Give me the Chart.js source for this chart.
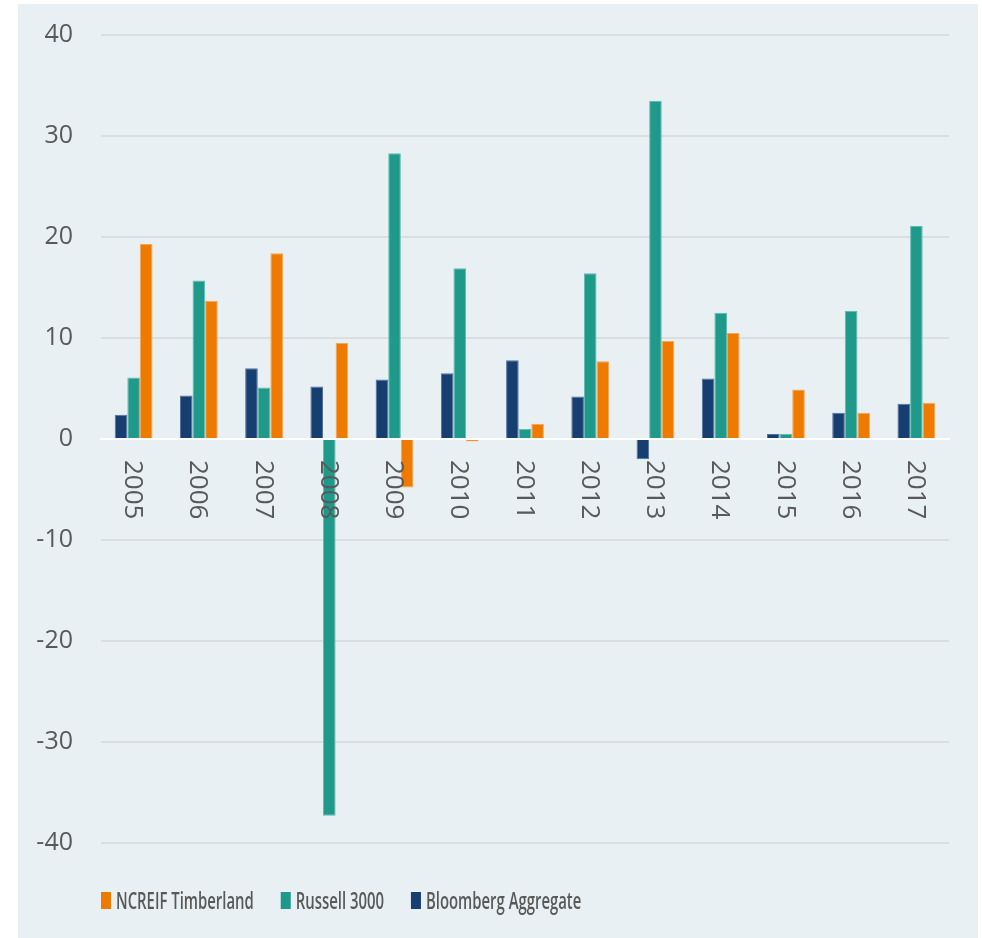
<!DOCTYPE html>
<html>
<head>
<meta charset="utf-8">
<title>Annual returns: NCREIF Timberland, Russell 3000, Bloomberg Aggregate</title>
<script src="https://cdn.jsdelivr.net/npm/chart.js@4/dist/chart.umd.min.js"></script>
<style>
  html, body { margin: 0; padding: 0; background: #ffffff; }
  #wrap { width: 982px; height: 938px; }
</style>
</head>
<body>
<div id="wrap"><canvas id="chart" width="982" height="938"></canvas></div>
<script>
// Calendar years on the category axis
const years = ['2005', '2006', '2007', '2008', '2009', '2010', '2011',
               '2012', '2013', '2014', '2015', '2016', '2017'];

// Annual total returns, percent
const bloombergAggregate = [2.4, 4.3, 7.0, 5.2, 5.9, 6.5, 7.8, 4.2, -2.0, 6.0, 0.5, 2.6, 3.5];
const russell3000       = [6.1, 15.7, 5.1, -37.3, 28.3, 16.9, 1.0, 16.4, 33.5, 12.5, 0.5, 12.7, 21.1];
const ncreifTimberland  = [19.3, 13.7, 18.4, 9.5, -4.8, -0.25, 1.5, 7.7, 9.7, 10.5, 4.9, 2.6, 3.6];

// Value axis ticks
const yTicks = [-40, -30, -20, -10, 0, 10, 20, 30, 40];

const COLORS = {
  ncreif: '#ef7a00',
  russell: '#1f998a',
  bloomberg: '#173e70'
};
const EDGES = {
  ncreif: '#f5a55a',
  russell: '#62bbb1',
  bloomberg: '#52719a'
};
const TEXT = '#595959';
const PANEL = '#e8f0f3';
const FONT = '"Open Sans", "DejaVu Sans", sans-serif';

// Tinted panel behind the whole chart
const panelPlugin = {
  id: 'panel',
  beforeDraw(chart) {
    const ctx = chart.ctx;
    ctx.save();
    ctx.fillStyle = '#ffffff';
    ctx.fillRect(0, 0, chart.width, chart.height);
    ctx.fillStyle = PANEL;
    ctx.fillRect(18, 4, 960, chart.height - 4);
    ctx.restore();
  }
};

// Year labels, turned to read downward, hanging just under the zero line
const yearLabelPlugin = {
  id: 'yearLabels',
  afterDraw(chart) {
    const ctx = chart.ctx;
    const xs = chart.scales.x;
    const ys = chart.scales.y;
    const y0 = ys.getPixelForValue(0) + 21;
    ctx.save();
    ctx.fillStyle = TEXT;
    ctx.font = '26px ' + FONT;
    ctx.textAlign = 'left';
    ctx.textBaseline = 'middle';
    years.forEach((label, i) => {
      const x = xs.getPixelForValue(i);
      ctx.save();
      ctx.translate(x, y0);
      ctx.rotate(Math.PI / 2);
      ctx.fillText(label, 0, 1);
      ctx.restore();
    });
    ctx.restore();
  }
};

// Legend row under the plot: NCREIF, Russell, Bloomberg (narrow lettering)
const legendPlugin = {
  id: 'bottomLegend',
  afterDraw(chart) {
    const ctx = chart.ctx;
    const items = [
      { text: 'NCREIF Timberland', color: COLORS.ncreif },
      { text: 'Russell 3000', color: COLORS.russell },
      { text: 'Bloomberg Aggregate', color: COLORS.bloomberg }
    ];
    const squeeze = 0.62;
    const baseline = 909;
    let x = chart.chartArea.left;
    ctx.save();
    ctx.font = '600 24px ' + FONT;
    ctx.textBaseline = 'alphabetic';
    ctx.textAlign = 'left';
    items.forEach(item => {
      ctx.fillStyle = item.color;
      ctx.fillRect(x, 892, 10, 17);
      const tx = x + 15;
      const w = ctx.measureText(item.text).width * squeeze;
      ctx.save();
      ctx.translate(tx, baseline);
      ctx.scale(squeeze, 1);
      ctx.fillStyle = TEXT;
      ctx.fillText(item.text, 0, 0);
      ctx.restore();
      x = tx + w + 27;
    });
    ctx.restore();
  }
};

function barSet(label, data, key) {
  return {
    label: label,
    data: data,
    backgroundColor: COLORS[key],
    borderColor: EDGES[key],
    borderWidth: 1,
    categoryPercentage: 0.58,
    barPercentage: 1.0
  };
}

new Chart(document.getElementById('chart'), {
  type: 'bar',
  data: {
    labels: years,
    datasets: [
      barSet('Bloomberg Aggregate', bloombergAggregate, 'bloomberg'),
      barSet('Russell 3000', russell3000, 'russell'),
      barSet('NCREIF Timberland', ncreifTimberland, 'ncreif')
    ]
  },
  options: {
    responsive: false,
    animation: false,
    devicePixelRatio: 1,
    layout: { padding: { left: 18, right: 33, top: 35, bottom: 95 } },
    plugins: {
      legend: { display: false },
      tooltip: { enabled: false }
    },
    scales: {
      x: {
        type: 'category',
        position: { y: 0 },
        z: 1,
        grid: { display: false, drawTicks: false },
        border: { display: true, color: '#ffffff', width: 2 },
        ticks: { display: false }
      },
      y: {
        min: -40,
        max: 40,
        afterFit(scale) { scale.width = 83; },
        afterBuildTicks(scale) { scale.ticks = yTicks.map(v => ({ value: v })); },
        grid: {
          drawTicks: true,
          tickLength: 28,
          tickColor: 'rgba(0,0,0,0)',
          lineWidth: 2,
          color: c => (c.tick && c.tick.value === 0) ? 'rgba(0,0,0,0)' : '#d9dee0'
        },
        border: { display: false },
        ticks: {
          padding: 0,
          color: TEXT,
          font: { family: FONT, size: 25 }
        }
      }
    }
  },
  plugins: [panelPlugin, yearLabelPlugin, legendPlugin]
});
</script>
</body>
</html>
